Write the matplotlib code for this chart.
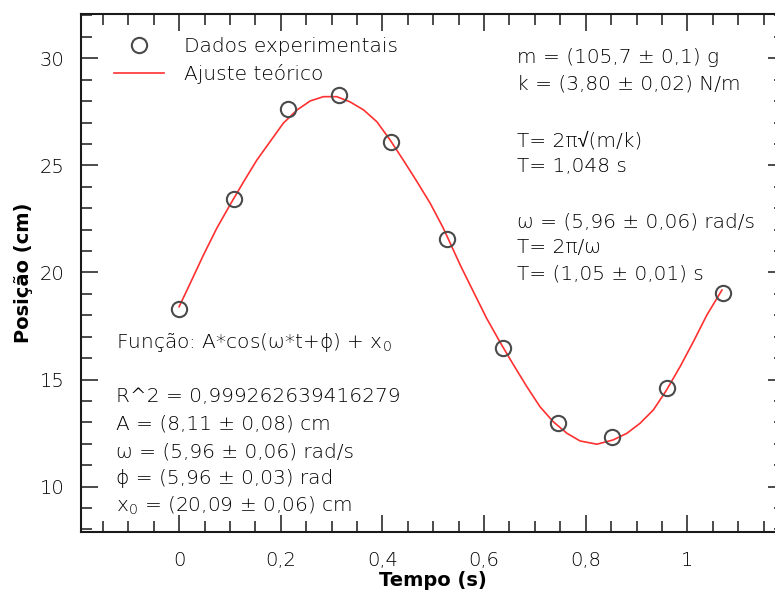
import matplotlib
matplotlib.use("Agg")
import matplotlib.pyplot as plt
from matplotlib.ticker import MultipleLocator, FixedLocator

plt.rcParams['font.family'] = ['DejaVu Sans', 'Liberation Sans']
plt.rcParams['mathtext.default'] = 'regular'

# ---- data ----
t_data = [0.0, 0.108, 0.215, 0.315, 0.417, 0.527, 0.637, 0.746, 0.852, 0.959, 1.070]
x_data = [18.28, 23.42, 27.62, 28.29, 26.11, 21.56, 16.46, 12.96, 12.31, 14.62, 19.06]

t_fit = [0.0, 0.022, 0.048, 0.074, 0.100, 0.127, 0.153, 0.179, 0.205, 0.232,
         0.258, 0.284, 0.310, 0.336, 0.363, 0.389, 0.415, 0.441, 0.468, 0.494,
         0.520, 0.553, 0.579, 0.605, 0.632, 0.658, 0.684, 0.710, 0.736, 0.763,
         0.789, 0.822, 0.854, 0.881, 0.907, 0.933, 0.959, 0.986, 1.012, 1.038,
         1.068]
x_fit = [18.40, 19.50, 20.82, 22.06, 23.15, 24.24, 25.25, 26.11, 26.97, 27.59,
         28.01, 28.21, 28.21, 27.97, 27.59, 27.04, 26.19, 25.25, 24.24, 23.23,
         22.06, 20.35, 19.10, 17.86, 16.72, 15.68, 14.67, 13.73, 13.03, 12.49,
         12.13, 11.98, 12.18, 12.49, 12.96, 13.58, 14.51, 15.62, 16.78, 18.00,
         19.18]

xticks = [0, 0.2, 0.4, 0.6, 0.8, 1.0]
xtick_labels = ['0', '0,2', '0,4', '0,6', '0,8', '1']
yticks = [10, 15, 20, 25, 30]
ytick_labels = ['10', '15', '20', '25', '30']

legend_labels = ['Dados experimentais', 'Ajuste teórico']

right_lines = ['m = (105,7 ± 0,1) g', 'k = (3,80 ± 0,02) N/m',
               'T= 2π√(m/k)', 'T= 1,048 s',
               'ω = (5,96 ± 0,06) rad/s', 'T= 2π/ω', 'T= (1,05 ± 0,01) s']
left_lines = ['Função: A*cos(ω*t+ϕ) + x$_0$', 'R^2 = 0,999262639416279',
              'A = (8,11 ± 0,08) cm', 'ω = (5,96 ± 0,06) rad/s',
              'ϕ = (5,96 ± 0,03) rad', 'x$_0$ = (20,09 ± 0,06) cm']

W, H = 775, 595
fig = plt.figure(figsize=(W / 100, H / 100), dpi=100)

def fx(px):
    return px / W

def fy(py):
    return 1 - py / H

left, right, top, bottom = 81, 785, 14, 532
ax = fig.add_axes([fx(left), fy(bottom), (right - left) / W, (bottom - top) / H])

ax.set_xlim(-0.193, 1.192)
ax.set_ylim(7.88, 32.07)

txtc = '#000000'
fam = ['DejaVu Sans', 'Liberation Sans']
tw = 200
ax.plot(t_fit, x_fit, color='#ff3030', lw=1.2, label=legend_labels[1], zorder=2)
ax.plot(t_data, x_data, linestyle='none', marker='o', markersize=11,
        markerfacecolor='none', markeredgecolor='#4a4a4a', markeredgewidth=1.5,
        label=legend_labels[0], zorder=3)

ax.xaxis.set_major_locator(FixedLocator(xticks))
ax.set_xticklabels(xtick_labels)
ax.xaxis.set_minor_locator(MultipleLocator(0.05))
ax.yaxis.set_major_locator(FixedLocator(yticks))
ax.set_yticklabels(ytick_labels)
ax.yaxis.set_minor_locator(MultipleLocator(1))

ax.tick_params(which='both', direction='in', top=True, right=True, width=1.1,
               color='#1a1a1a', labelcolor=txtc, labelsize=14)
ax.tick_params(which='major', length=12)
ax.tick_params(which='minor', length=8)
ax.tick_params(axis='x', which='major', pad=14)
ax.tick_params(axis='y', which='major', pad=12)
for lab in ax.get_xticklabels() + ax.get_yticklabels():
    lab.set_fontweight(tw)
for s in ax.spines.values():
    s.set_linewidth(1.5)
    s.set_color('#1a1a1a')

ax.set_xlabel('Tempo (s)', fontsize=14, fontweight='bold', color=txtc, labelpad=2)
ax.set_ylabel('Posição (cm)', fontsize=14, fontweight='bold', color=txtc, labelpad=14)
ax.xaxis.set_label_coords(0.5, -0.075)
ax.yaxis.set_label_coords(-0.068, 0.5)

h, l = ax.get_legend_handles_labels()
leg = ax.legend([h[1], h[0]], [l[1], l[0]], loc='upper left',
                bbox_to_anchor=(fx(114), fy(37)), bbox_transform=fig.transFigure,
                frameon=False, fontsize=14.5, handlelength=2.5, handletextpad=1.0,
                labelspacing=0.4, borderpad=0, borderaxespad=0)
for tx in leg.get_texts():
    tx.set_color(txtc)
    tx.set_fontweight(tw)

right_y = [63, 90, 146.5, 172, 227, 253, 280]
for s, py in zip(right_lines, right_y):
    fig.text(fx(517), fy(py), s, fontsize=14.5, color=txtc, va='baseline',
             ha='left', fontweight=tw, family=fam)

left_y = [348, 402, 429.5, 457, 484.5, 512]
for s, py in zip(left_lines, left_y):
    fig.text(fx(116), fy(py), s, fontsize=14.5, color=txtc, va='baseline',
             ha='left', fontweight=tw, family=fam)

fig.savefig('out.png', dpi=100)
